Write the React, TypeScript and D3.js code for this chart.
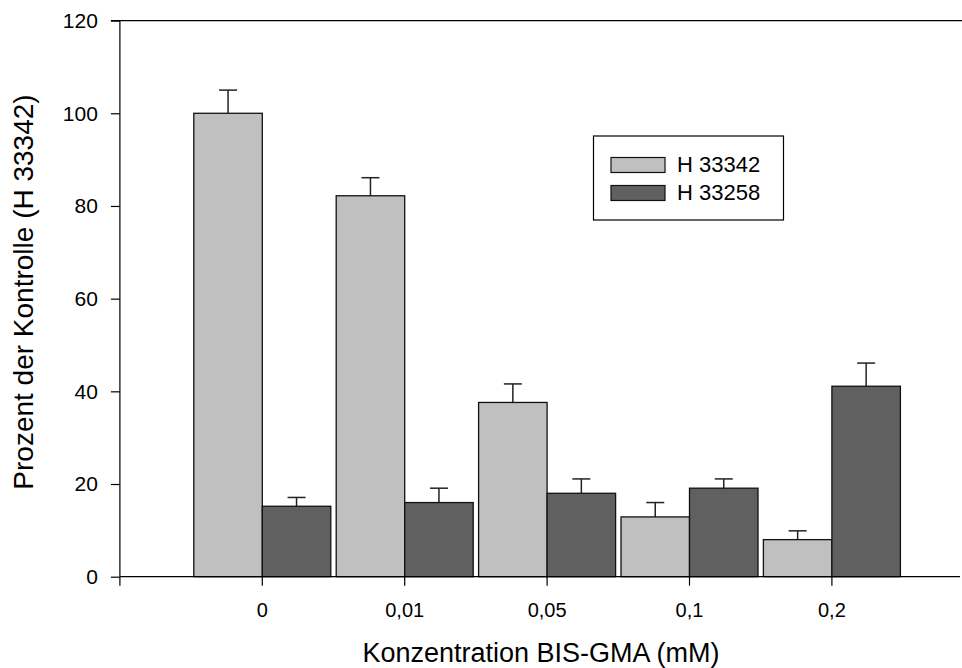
import { useEffect, useRef } from "react";
import * as d3 from "d3";

const categories = ["0", "0,01", "0,05", "0,1", "0,2"];
const seriesNames = ["H 33342", "H 33258"];
const lightValues = [100, 82.2, 37.6, 12.9, 8.0];
const lightErrors = [5, 3.9, 4, 3.1, 1.9];
const darkValues = [15.2, 16.0, 18.0, 19.1, 41.1];
const darkErrors = [1.9, 3.1, 3.1, 2, 5];
const yTicks = [0, 20, 40, 60, 80, 100, 120];

const colors = ["#c0c0c0", "#606060"];
const W = 962;
const H = 668;

export default function App() {
  const ref = useRef<SVGSVGElement>(null);

  useEffect(() => {
    const svg = d3.select(ref.current);
    svg.selectAll("*").remove();

    const font = "'Liberation Sans', Arial, sans-serif";
    const x0 = 262.3; // centre of first group
    const step = 142.4;
    const x = d3.scaleLinear().domain([-1, 4.9]).range([x0 - step, x0 + 4.9 * step]);
    const y = d3.scaleLinear().domain([0, 120]).range([576.7, 20.6]);
    const barW = 68.5;

    const g = svg.append("g");

    // top frame line
    g.append("line")
      .attr("x1", x(-1)).attr("x2", W)
      .attr("y1", y(120)).attr("y2", y(120))
      .attr("stroke", "#000").attr("stroke-width", 1.2);

    const series = [
      { vals: lightValues, errs: lightErrors, off: -barW },
      { vals: darkValues, errs: darkErrors, off: 0 },
    ];

    series.forEach((s, si) => {
      const bars = g.append("g");
      s.vals.forEach((v, i) => {
        const bx = x(i) + s.off;
        const top = y(v);
        const errTop = y(v + s.errs[i]);
        const cx = bx + barW / 2;
        bars.append("line")
          .attr("x1", cx).attr("x2", cx)
          .attr("y1", top).attr("y2", errTop)
          .attr("stroke", "#222").attr("stroke-width", 1.5);
        bars.append("line")
          .attr("x1", cx - 9).attr("x2", cx + 9)
          .attr("y1", errTop).attr("y2", errTop)
          .attr("stroke", "#222").attr("stroke-width", 1.5);
        bars.append("rect")
          .attr("x", bx).attr("y", top)
          .attr("width", barW).attr("height", y(0) - top)
          .attr("fill", colors[si])
          .attr("stroke", "#111").attr("stroke-width", 1.3);
      });
    });

    // y axis
    const yAxis = d3.axisLeft(y).tickValues(yTicks).tickSize(9).tickPadding(13);
    const ya = g.append("g").attr("transform", `translate(${x(-1)},0)`).call(yAxis);
    ya.select(".domain").attr("stroke", "#000").attr("stroke-width", 1.2)
      .attr("d", `M-9,${y(120)}H0V${y(0)}`);
    ya.selectAll(".tick line").attr("stroke", "#000").attr("stroke-width", 1.2);
    ya.selectAll(".tick text")
      .attr("font-family", font).attr("font-size", 21).attr("fill", "#000");

    // x axis
    g.append("line")
      .attr("x1", x(-1)).attr("x2", x(4.9))
      .attr("y1", y(0)).attr("y2", y(0))
      .attr("stroke", "#000").attr("stroke-width", 1.2);
    const xTickIdx = [-1, 0, 1, 2, 3, 4];
    g.selectAll(".xt").data(xTickIdx).enter().append("line")
      .attr("x1", (d) => x(d)).attr("x2", (d) => x(d))
      .attr("y1", y(0)).attr("y2", y(0) + 9)
      .attr("stroke", "#000").attr("stroke-width", 1.2);
    g.selectAll(".xl").data(categories).enter().append("text")
      .attr("x", (_, i) => x(i)).attr("y", 617)
      .attr("text-anchor", "middle")
      .attr("font-family", font).attr("font-size", 20)
      .text((d) => d);

    // axis titles
    g.append("text")
      .attr("x", 541).attr("y", 662)
      .attr("text-anchor", "middle")
      .attr("font-family", font).attr("font-size", 27)
      .text("Konzentration BIS-GMA (mM)");
    g.append("text")
      .attr("transform", `translate(33,292) rotate(-90)`)
      .attr("text-anchor", "middle")
      .attr("font-family", font).attr("font-size", 28)
      .text("Prozent der Kontrolle (H 33342)");

    // legend
    const lg = g.append("g");
    lg.append("rect")
      .attr("x", 593.5).attr("y", 136).attr("width", 190).attr("height", 84)
      .attr("fill", "#fff").attr("stroke", "#000").attr("stroke-width", 1.2);
    seriesNames.forEach((name, i) => {
      const yy = 157.5 + i * 28;
      lg.append("rect")
        .attr("x", 611).attr("y", yy).attr("width", 54).attr("height", 15)
        .attr("fill", colors[i]).attr("stroke", "#111").attr("stroke-width", 1.2);
      lg.append("text")
        .attr("x", 677).attr("y", yy + 14.5)
        .attr("font-family", font).attr("font-size", 22)
        .text(name);
    });
  }, []);

  return (
    <div style={{ position: "absolute", left: 0, top: 0 }}>
      <svg ref={ref} width={W} height={H} style={{ display: "block", background: "#fff" }} />
    </div>
  );
}
